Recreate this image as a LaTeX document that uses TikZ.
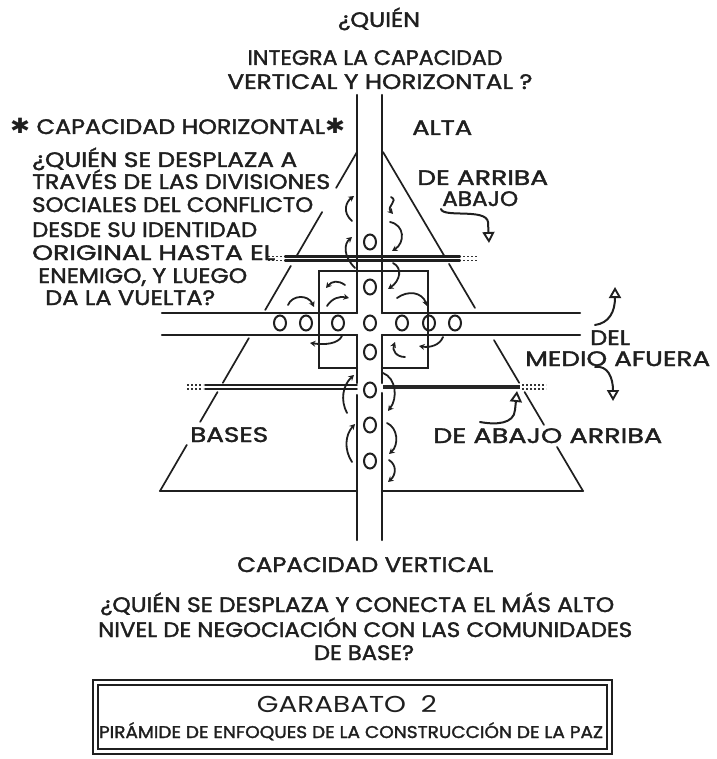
\documentclass[tikz,border=0pt]{standalone}
\usepackage{fontspec}
\setmainfont{Poppins}
\newfontfamily\medf{Poppins}[FakeBold=1.6]
\newfontfamily\symf{DejaVu Sans}
\usetikzlibrary{arrows.meta,shapes.geometric,calc}
\newcommand\fw[2]{\resizebox{#1pt}{\height}{#2}}
\begin{document}
\begin{tikzpicture}[x=1pt,y=-1pt,
  ink/.style={line width=2.1pt,line cap=round,draw=black!88},
  thin/.style={line width=1.7pt,line cap=round,draw=black!88},
  dots/.style={line width=1.8pt,draw=black!80,dash pattern=on 2pt off 2pt},
  ring/.style={ellipse,draw=black!88,line width=2pt,minimum width=12pt,minimum height=15pt,inner sep=0pt},
  sarr/.style={line width=1.8pt,draw=black!88,line cap=round,-{Stealth[length=5.5pt,width=6pt]}},
  barr/.style={line width=2pt,draw=black!88,line cap=round,-{Triangle[open,length=11pt,width=12pt,line width=1.9pt]}},
  txt/.style={inner sep=0pt,font=\fontsize{21}{25}\selectfont\medf,text=black!88},
  lt/.style={txt,anchor=base west},
  ct/.style={txt,anchor=base}]
\useasboundingbox (0,0) rectangle (716,759);
\fill[white] (0,0) rectangle (716,759);

% ---- vertical bar
\draw[ink] (357,95) -- (357,313) (382,95) -- (382,313);
\draw[ink] (357,335) -- (357,383) (382,335) -- (382,383);
\draw[ink] (357,395) -- (357,540) (382,393) -- (382,540);
% ---- horizontal bar
\draw[ink] (162,313) -- (357,313) (382,313) -- (580,313);
\draw[ink] (162,335) -- (357,335) (382,335) -- (580,335);
% ---- central square
\draw[ink] (357,368) -- (319,368) -- (319,271) -- (428,271) -- (428,368) -- (382,368);

% ---- pyramid sides
\coordinate (aL) at (357,152); \coordinate (bL) at (160,491);
\coordinate (aR) at (383,152); \coordinate (bR) at (583,491);
\foreach \s/\e in {0/0.106,0.177/0.307,0.336/0.466,0.549/0.681,0.708/0.796,0.864/1}
  \draw[thin] ($(aL)!\s!(bL)$) -- ($(aL)!\e!(bL)$);
\foreach \s/\e in {0/0.307,0.33/0.46,0.555/0.681,0.708/0.805,0.87/1}
  \draw[thin] ($(aR)!\s!(bR)$) -- ($(aR)!\e!(bR)$);
% base
\draw[ink] (160,491) -- (357,491) (382,491) -- (583,491);

% ---- upper band (double line)
\draw[ink] (285,256.5) -- (460,256.5) (285,260.5) -- (460,260.5);
\draw[dots] (268,256.5) -- (283,256.5) (268,260.5) -- (283,260.5);
\draw[dots] (463,256.5) -- (477,256.5) (463,260.5) -- (477,260.5);
% ---- lower band
\draw[thin] (205,385) -- (357,385) (205,389) -- (357,389);
\draw[dots] (187,385) -- (203,385) (187,389) -- (203,389);
\draw[line width=4.5pt,draw=black!85] (383,387) -- (520,387);
\draw[dots] (522,385) -- (546,385) (522,389) -- (546,389);

% ---- circles
\foreach \n/\y in {v1/242,v2/287,v3/352,v4/390,v5/425,v6/461}
  \node[ring] (\n) at (370,\y) {};
\foreach \n/\x in {h1/280,h2/306,h3/338,h0/370,h4/402,h5/429,h6/455}
  \node[ring] (\n) at (\x,323) {};

% ---- small curved arrows
\draw[sarr] (352,221) .. controls (342,212) and (346,202) .. (354,196);
\draw[sarr] (355,268) .. controls (343,256) and (344,244) .. (352,237);
\draw[sarr] (391,197) .. controls (399,201) and (386,206) .. (393,214);
\draw[sarr] (390,222) .. controls (405,225) and (405,243) .. (392,251);
\draw[sarr] (393,263) .. controls (403,268) and (400,281) .. (388,289);
\draw[sarr] (345,285) .. controls (338,280) and (332,281) .. (326,288);
\draw[sarr] (327,306) .. controls (332,298) and (340,296) .. (349,298);
\draw[sarr] (288,305) .. controls (292,295) and (308,294) .. (314,307);
\draw[sarr] (397,298) .. controls (408,290) and (422,292) .. (427,306);
\draw[sarr] (342,336) .. controls (338,344) and (325,345) .. (310,343);
\draw[sarr] (405,357) .. controls (396,357) and (392,350) .. (395,342);
\draw[sarr] (443,337) .. controls (440,345) and (430,348) .. (419,346);
\draw[sarr] (347,413) .. controls (340,400) and (343,385) .. (354,375);
\draw[sarr] (383,373) .. controls (396,378) and (398,398) .. (388,411);
\draw[sarr] (352,462) .. controls (344,450) and (345,435) .. (355,424);
\draw[sarr] (387,423) .. controls (398,428) and (399,445) .. (389,454);
\draw[sarr] (389,460) .. controls (397,465) and (396,475) .. (388,482);

% ---- big arrows
\draw[barr] (441,209) .. controls (443,218) and (486,208) .. (488,222) -- (489,243);
\draw[barr] (595,325) .. controls (609,323) and (615,312) .. (615,287);
\draw[barr] (595,367) .. controls (608,365) and (613,378) .. (613,401);
\draw[barr] (480,422) .. controls (496,425) and (514,424) .. (515,410) -- (517,391);

% ---- texts top
\node[ct] (t1) at (379,27) {\fw{82}{¿QUIÉN}};
\node[ct] (t2) at (375,65) {\fw{255}{INTEGRA LA CAPACIDAD}};
\node[ct] (t3) at (380,89) {\fw{305}{VERTICAL Y HORIZONTAL ?}};
% left block
\node[lt] (ch) at (10,134) {\fw{335}{{\symf ✱} CAPACIDAD HORIZONTAL{\symf ✱}}};
\node[lt] (l1) at (32,167) {\fw{265}{¿QUIÉN SE DESPLAZA A}};
\node[lt] (l2) at (32,189) {\fw{298}{TRAVÉS DE LAS DIVISIONES}};
\node[lt] (l3) at (32,212) {\fw{281}{SOCIALES DEL CONFLICTO}};
\node[lt] (l4) at (32,237) {\fw{225}{DESDE SU IDENTIDAD}};
\node[lt] (l5) at (32,260) {\fw{243}{ORIGINAL HASTA EL}};
\node[lt] (l6) at (38,283) {\fw{209}{ENEMIGO, Y LUEGO}};
\node[lt] (l7) at (45,305) {\fw{170}{DA LA VUELTA?}};
% right block
\node[lt] (alta) at (412,135) {\fw{60}{ALTA}};
\node[lt] (dar) at (417,185) {\fw{131}{DE ARRIBA}};
\node[lt] (aba) at (442,206) {\fw{76}{ABAJO}};
\node[lt] (del) at (590,345) {\fw{40}{DEL}};
\node[lt] (med) at (525,366) {\fw{185}{MEDIO AFUERA}};
\node[lt] (bas) at (190,442) {\fw{78}{BASES}};
\node[lt] (dab) at (433,443) {\fw{229}{DE ABAJO ARRIBA}};
% bottom
\node[lt] (cv) at (237,572) {\fw{256}{CAPACIDAD VERTICAL}};
\node[lt] (b1) at (100,612) {\fw{514}{¿QUIÉN SE DESPLAZA Y CONECTA EL MÁS ALTO}};
\node[lt] (b2) at (98,637) {\fw{534}{NIVEL DE NEGOCIACIÓN CON LAS COMUNIDADES}};
\node[ct] (b3) at (364,660) {\fw{100}{DE BASE?}};

% ---- title box
\draw[line width=2.2pt,draw=black!88] (93,680) rectangle (612,754);
\draw[line width=1.3pt,draw=black!88] (98,685) rectangle (607,749);
\node[ct,font=\fontsize{23}{27}\selectfont] (g2) at (347,712) {\fw{180}{GARABATO\ \ 2}};
\node[ct,font=\fontsize{17}{20}\selectfont\medf] (sub) at (351,738) {\fw{504}{PIRÁMIDE DE ENFOQUES DE LA CONSTRUCCIÓN DE LA PAZ}};
\end{tikzpicture}
\end{document}
